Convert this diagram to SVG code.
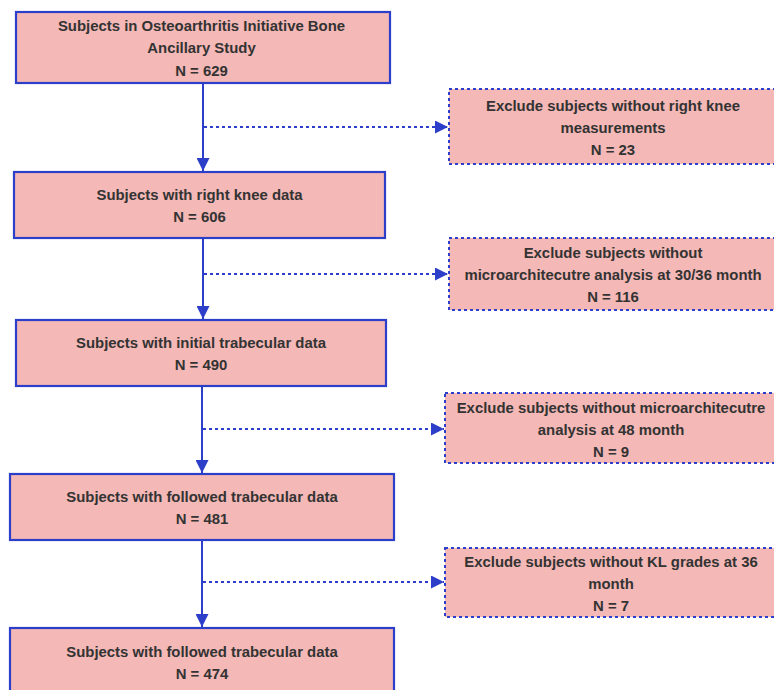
<svg xmlns="http://www.w3.org/2000/svg" width="774" height="690" viewBox="0 0 774 690">
<defs>
<style>
.box{fill:#f4b8b6;stroke:#2d3ec8;stroke-width:2.2}
.ex{fill:#f4b8b6;stroke:#2d3ec8;stroke-width:2;stroke-dasharray:3 3}
.t{font-family:"Liberation Sans",Arial,sans-serif;font-weight:bold;font-size:14.9px;fill:#333;text-anchor:middle}
.ln{stroke:#2d3ec8;stroke-width:2;fill:none}
.dl{stroke:#2d3ec8;stroke-width:2;fill:none;stroke-dasharray:3 3}
</style>
<marker id="ah" viewBox="0 0 10 10" refX="10" refY="5" markerWidth="13" markerHeight="13" markerUnits="userSpaceOnUse" orient="auto">
<path d="M0,0 L10,5 L0,10 Z" fill="#2d3ec8"/>
</marker>
</defs>
<g id="connectors">
<line class="ln" x1="203" y1="83" x2="203" y2="171" marker-end="url(#ah)"/>
<line class="dl" x1="204" y1="127" x2="448" y2="127" marker-end="url(#ah)"/>
<line class="ln" x1="203" y1="238" x2="203" y2="319" marker-end="url(#ah)"/>
<line class="dl" x1="204" y1="274" x2="448" y2="274" marker-end="url(#ah)"/>
<line class="ln" x1="202" y1="386" x2="202" y2="473" marker-end="url(#ah)"/>
<line class="dl" x1="203" y1="429" x2="444" y2="429" marker-end="url(#ah)"/>
<line class="ln" x1="202" y1="540" x2="202" y2="627" marker-end="url(#ah)"/>
<line class="dl" x1="203" y1="582" x2="444" y2="582" marker-end="url(#ah)"/>
</g>
<g id="n1">
<rect class="box" x="16" y="12" width="374" height="71"/>
<text class="t" x="201.5" y="31">Subjects in Osteoarthritis Initiative Bone</text>
<text class="t" x="201.5" y="53">Ancillary Study</text>
<text class="t" x="201.5" y="76">N = 629</text>
</g>
<g id="n2">
<rect class="box" x="14" y="172" width="371" height="66"/>
<text class="t" x="199.5" y="200">Subjects with right knee data</text>
<text class="t" x="199.5" y="222">N = 606</text>
</g>
<g id="n3">
<rect class="box" x="16" y="320" width="370" height="66"/>
<text class="t" x="201" y="348">Subjects with initial trabecular data</text>
<text class="t" x="201" y="370">N = 490</text>
</g>
<g id="n4">
<rect class="box" x="10" y="474" width="384" height="66"/>
<text class="t" x="202" y="502">Subjects with followed trabecular data</text>
<text class="t" x="202" y="524">N = 481</text>
</g>
<g id="n5">
<rect class="box" x="10" y="628" width="384" height="70"/>
<text class="t" x="202" y="657">Subjects with followed trabecular data</text>
<text class="t" x="202" y="679">N = 474</text>
</g>
<g id="e1">
<rect class="ex" x="449" y="89" width="330" height="75"/>
<text class="t" x="613" y="111">Exclude subjects without right knee</text>
<text class="t" x="613" y="133">measurements</text>
<text class="t" x="613" y="155">N = 23</text>
</g>
<g id="e2">
<rect class="ex" x="449" y="238" width="330" height="72"/>
<text class="t" x="613" y="258">Exclude subjects without</text>
<text class="t" x="613" y="280">microarchitecutre analysis at 30/36 month</text>
<text class="t" x="613" y="302">N = 116</text>
</g>
<g id="e3">
<rect class="ex" x="445" y="393" width="334" height="70"/>
<text class="t" x="611" y="413">Exclude subjects without microarchitecutre</text>
<text class="t" x="611" y="435">analysis at 48 month</text>
<text class="t" x="611" y="457">N = 9</text>
</g>
<g id="e4">
<rect class="ex" x="445" y="548" width="334" height="69"/>
<text class="t" x="611" y="567">Exclude subjects without KL grades at 36</text>
<text class="t" x="611" y="589">month</text>
<text class="t" x="611" y="611">N = 7</text>
</g>
</svg>
